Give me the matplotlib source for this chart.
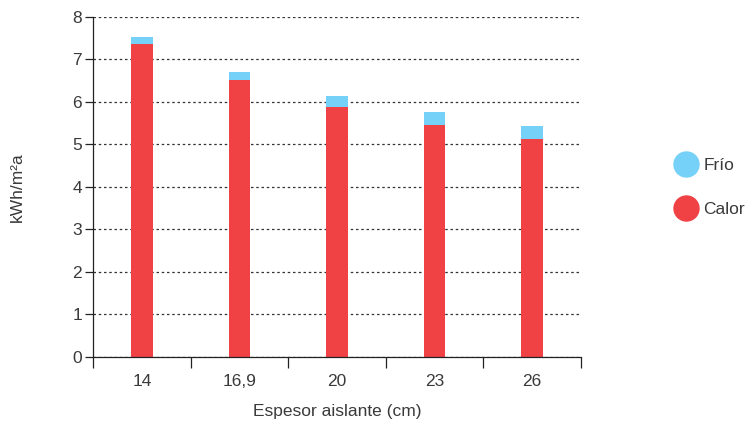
import numpy as np
import matplotlib

matplotlib.use("Agg")
import matplotlib.pyplot as plt
from matplotlib.lines import Line2D

# --- data -------------------------------------------------------------------
categories = ["14", "16,9", "20", "23", "26"]
calor = [7.36, 6.52, 5.88, 5.46, 5.13]
frio = [0.17, 0.19, 0.26, 0.30, 0.31]

RED, BLUE, INK = "#f04145", "#75d1f7", "#3a3a3a"
plt.rcParams.update({"font.family": ["Liberation Sans", "DejaVu Sans"],
                     "font.size": 12.5})

fig = plt.figure(figsize=(7.46, 4.22), dpi=100)
ax = fig.add_axes([0.1247, 0.154, 0.654, 0.806])

x = np.arange(len(categories))
ax.bar(x, calor, width=0.22, color=RED, zorder=2)
ax.bar(x, frio, width=0.22, bottom=calor, color=BLUE, zorder=2)

ax.set_xlim(-0.5, len(categories) - 0.5)
ax.set_ylim(0, 8)
ax.set_yticks(range(9))
ax.set_xticks(x)
ax.set_xticklabels(categories)
ax.set_xticks(np.arange(-0.5, len(categories)), minor=True)
ax.tick_params(axis="x", which="major", length=0, pad=12, colors=INK)
ax.tick_params(axis="x", which="minor", length=8, width=0.9, color="#222222")
ax.tick_params(axis="y", length=6, width=0.9, color="#222222", labelcolor=INK, pad=2)

ax.yaxis.grid(True, color="#333333", lw=0.9, ls=(0, (2, 2.2)), zorder=1)
ax.set_axisbelow(True)
for s in ("top", "right"):
    ax.spines[s].set_visible(False)
for s in ("left", "bottom"):
    ax.spines[s].set_color("#222222")
    ax.spines[s].set_linewidth(0.9)

ax.set_xlabel("Espesor aislante (cm)", color=INK, labelpad=11)
ax.set_ylabel("kWh/m²a", color=INK, labelpad=34)

handles = [Line2D([], [], ls="none", marker="o", ms=18, color=BLUE, label="Frío"),
           Line2D([], [], ls="none", marker="o", ms=18, color=RED, label="Calor")]
fig.legend(handles=handles, loc="center left", bbox_to_anchor=(0.885, 0.555),
           frameon=False, labelspacing=1.65, handletextpad=0.4, handlelength=1.2,
           labelcolor=INK, fontsize=12.5)

fig.savefig("out.png", dpi=100)
